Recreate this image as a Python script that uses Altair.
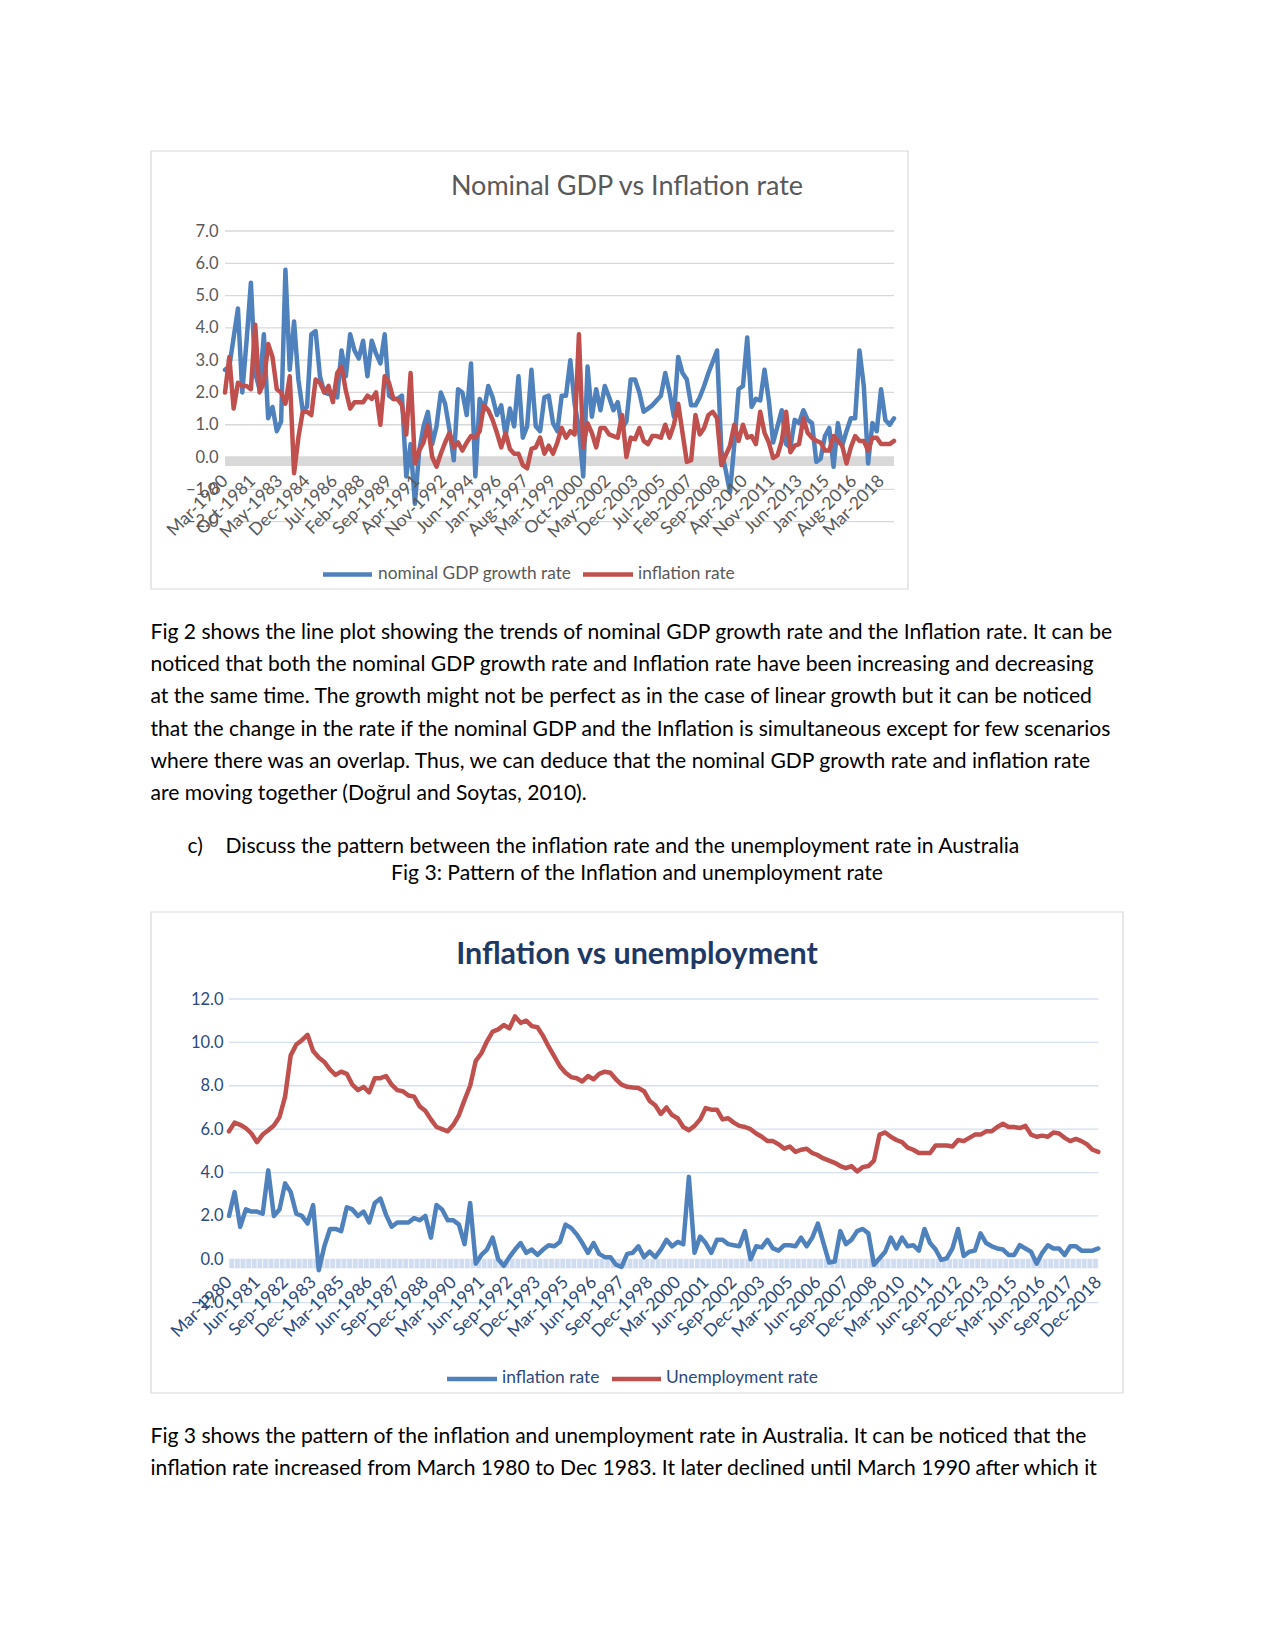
import altair as alt
import pandas as pd

# ---------------- data (quarterly, Mar-1980 .. Dec-2018) ----------------
inflation = [
    2.0, 3.1, 1.5, 2.3, 2.2, 2.2, 2.1, 4.1, 2.0, 2.3,
    3.5, 3.1, 2.1, 2.0, 1.65, 2.5, -0.5, 0.6, 1.4, 1.4,
    1.3, 2.4, 2.3, 2.0, 2.2, 1.7, 2.6, 2.8, 2.05, 1.5,
    1.7, 1.7, 1.7, 1.9, 1.8, 2.0, 1.0, 2.5, 2.3, 1.8,
    1.8, 1.6, 0.7, 2.6, -0.2, 0.2, 0.45, 1.0, 0.0, -0.3,
    0.1, 0.45, 0.75, 0.3, 0.45, 0.2, 0.45, 0.65, 0.6, 0.8,
    1.6, 1.45, 1.15, 0.75, 0.3, 0.75, 0.25, 0.1, 0.1, -0.25,
    -0.35, 0.25, 0.3, 0.6, 0.1, 0.35, 0.1, 0.45, 0.9, 0.6,
    0.8, 0.7, 3.8, 0.3, 1.05, 0.75, 0.3, 0.9, 0.9, 0.7,
    0.65, 0.6, 1.3, 0.0, 0.6, 0.55, 0.9, 0.5, 0.4, 0.65,
    0.65, 0.6, 1.0, 0.6, 1.0, 1.65, 0.75, -0.15, -0.1, 1.3,
    0.7, 0.9, 1.3, 1.4, 1.2, -0.25, 0.05, 0.35, 1.0, 0.5,
    1.0, 0.6, 0.65, 0.4, 1.4, 0.75, 0.45, -0.03, 0.05, 0.5,
    1.4, 0.15, 0.35, 0.4, 1.2, 0.75, 0.6, 0.5, 0.45, 0.2,
    0.2, 0.65, 0.5, 0.35, -0.2, 0.3, 0.65, 0.5, 0.5, 0.2,
    0.6, 0.6, 0.4, 0.4, 0.4, 0.5,
]

unemployment = [
    5.9, 6.3, 6.2, 6.05, 5.8, 5.4, 5.75, 5.95, 6.17, 6.55,
    7.5, 9.4, 9.9, 10.1, 10.35, 9.6, 9.3, 9.1, 8.75, 8.5,
    8.65, 8.55, 8.05, 7.8, 7.95, 7.7, 8.35, 8.35, 8.45, 8.05,
    7.8, 7.75, 7.55, 7.5, 7.05, 6.85, 6.45, 6.1, 6.0, 5.9,
    6.2, 6.65, 7.35, 8.0, 9.15, 9.5, 10.05, 10.5, 10.6, 10.8,
    10.65, 11.2, 10.9, 11.0, 10.75, 10.7, 10.3, 9.8, 9.35, 8.9,
    8.6, 8.4, 8.35, 8.2, 8.45, 8.3, 8.55, 8.65, 8.6, 8.3,
    8.05, 7.95, 7.92, 7.9, 7.75, 7.3, 7.1, 6.7, 7.0, 6.65,
    6.5, 6.1, 5.95, 6.15, 6.45, 6.97, 6.9, 6.9, 6.45, 6.5,
    6.3, 6.15, 6.1, 6.0, 5.8, 5.65, 5.45, 5.45, 5.3, 5.1,
    5.2, 4.95, 5.05, 5.1, 4.9, 4.8, 4.65, 4.55, 4.45, 4.3,
    4.2, 4.3, 4.05, 4.25, 4.3, 4.55, 5.75, 5.85, 5.65, 5.5,
    5.4, 5.15, 5.05, 4.9, 4.9, 4.9, 5.25, 5.25, 5.25, 5.2,
    5.5, 5.45, 5.6, 5.75, 5.75, 5.9, 5.9, 6.1, 6.25, 6.1,
    6.1, 6.05, 6.15, 5.75, 5.65, 5.7, 5.65, 5.85, 5.8, 5.6,
    5.45, 5.55, 5.45, 5.3, 5.05, 4.95,
]

gdp_growth = [
    2.7, 2.8, 3.7, 4.6, 2.0, 3.6, 5.4, 2.6, 2.1, 3.8,
    1.2, 1.55, 0.8, 1.1, 5.8, 2.7, 4.2, 2.4, 1.45, 1.55,
    3.8, 3.9, 2.5, 2.0, 1.95, 2.0, 1.85, 3.3, 2.5, 3.8,
    3.3, 3.05, 3.6, 2.5, 3.6, 3.2, 2.9, 3.8, 1.9, 1.8,
    1.8, 1.9, -0.6, 0.4, -1.45, 0.2, 0.95, 1.4, 0.4, 0.95,
    2.0, 1.65, 0.85, -0.1, 2.1, 2.0, 1.3, 2.9, -0.6, 1.8,
    1.45, 2.2, 1.85, 1.3, 1.6, 0.65, 1.5, 0.95, 2.5, 0.6,
    0.95, 2.7, 0.95, 0.8, 1.85, 1.9, 1.05, 0.8, 1.9, 1.9,
    3.0, 1.65, 0.9, -0.6, 2.8, 1.25, 2.1, 1.45, 2.2, 1.85,
    1.45, 1.7, 0.9, 1.1, 2.4, 2.4, 2.0, 1.4, 1.5, 1.6,
    1.75, 1.9, 2.6, 2.0, 1.25, 3.1, 2.6, 2.4, 1.6, 1.6,
    1.85, 2.2, 2.6, 2.95, 3.3, 0.2, -0.4, -1.1, 0.4, 2.1,
    2.2, 3.7, 1.55, 1.8, 1.75, 2.7, 1.75, 0.45, 0.95, 1.45,
    0.4, 0.3, 1.15, 1.05, 1.45, 1.15, 1.05, -0.15, -0.05, 0.65,
    0.9, -0.3, 1.05, 0.35, 0.8, 1.2, 1.2, 3.3, 2.2, -0.2,
    1.05, 0.8, 2.1, 1.15, 1.0, 1.2,
]

gdp_x_labels = [
    "Mar-1980", "Oct-1981", "May-1983", "Dec-1984", "Jul-1986", "Feb-1988",
    "Sep-1989", "Apr-1991", "Nov-1992", "Jun-1994", "Jan-1996", "Aug-1997",
    "Mar-1999", "Oct-2000", "May-2002", "Dec-2003", "Jul-2005", "Feb-2007",
    "Sep-2008", "Apr-2010", "Nov-2011", "Jun-2013", "Jan-2015", "Aug-2016",
    "Mar-2018",
]
unemp_x_labels = [
    "Mar-1980", "Jun-1981", "Sep-1982", "Dec-1983", "Mar-1985", "Jun-1986",
    "Sep-1987", "Dec-1988", "Mar-1990", "Jun-1991", "Sep-1992", "Dec-1993",
    "Mar-1995", "Jun-1996", "Sep-1997", "Dec-1998", "Mar-2000", "Jun-2001",
    "Sep-2002", "Dec-2003", "Mar-2005", "Jun-2006", "Sep-2007", "Dec-2008",
    "Mar-2010", "Jun-2011", "Sep-2012", "Dec-2013", "Mar-2015", "Jun-2016",
    "Sep-2017", "Dec-2018",
]
gdp_y_ticks = [-2, -1, 0, 1, 2, 3, 4, 5, 6, 7]
unemp_y_ticks = [-2, 0, 2, 4, 6, 8, 10, 12]

title_1 = "Nominal GDP vs Inflation rate"
title_2 = "Inflation vs unemployment"
legend_1 = ["nominal GDP growth rate", "inflation rate"]
legend_2 = ["inflation rate", "Unemployment rate"]

paragraph_1 = [
    "Fig 2 shows the line plot showing the trends of nominal GDP growth rate and the Inflation rate. It can be",
    "noticed that both the nominal GDP growth rate and Inflation rate have been increasing and decreasing",
    "at the same time. The growth might not be perfect as in the case of linear growth but it can be noticed",
    "that the change in the rate if the nominal GDP and the Inflation is simultaneous except for few scenarios",
    "where there was an overlap. Thus, we can deduce that the nominal GDP growth rate and inflation rate",
    "are moving together (Doğrul and Soytas, 2010).",
]
item_label = "c)"
item_text = "Discuss the pattern between the inflation rate and the unemployment rate in Australia"
caption_3 = "Fig 3: Pattern of the Inflation and unemployment rate"
paragraph_2 = [
    "Fig 3 shows the pattern of the inflation and unemployment rate in Australia. It can be noticed that the",
    "inflation rate increased from March 1980 to Dec 1983. It later declined until March 1990 after which it",
]

# ---------------- styles / layout ----------------
BLUE = "#4F81BD"
RED = "#C0504D"
GRAY_TXT = "#595959"
NAVY_TXT = "#2C4A7C"
NAVY_TITLE = "#1F3864"
FONT = "Lato"
W, H = 1259, 1635
O = 8  # page margin


def P(v):
    return v - O


n = len(inflation)
data = pd.DataFrame({
    "quarter": list(range(n)),
    "month": [3 * i for i in range(n)],
    "gdp": gdp_growth,
    "infl": inflation,
    "unemp": unemployment,
})

# ---- chart 1 geometry (page px) ----
c1_left, c1_right = 225, 894
c1_top, c1_bottom = 231, 521.6
c1_ymin, c1_ymax = -2, 7
c1_months = 465
x1 = alt.Scale(domain=[0, c1_months], range=[P(c1_left), P(c1_right)], nice=False, zero=False)
y1 = alt.Scale(domain=[c1_ymin, c1_ymax], range=[P(c1_bottom), P(c1_top)], nice=False, zero=False)
c1_zero = P(c1_bottom) - (0 - c1_ymin) * (c1_bottom - c1_top) / (c1_ymax - c1_ymin)
step1 = 19
expr1 = "[" + ",".join("'%s'" % s for s in gdp_x_labels) + "][round(datum.value/%d)]" % step1

ax1x = alt.Axis(
    orient="bottom", offset=c1_zero - H, values=[i * step1 for i in range(len(gdp_x_labels))],
    labelExpr=expr1, labelAngle=-45, labelAlign="right", labelBaseline="middle",
    labelPadding=21, labelFont=FONT, labelFontSize=17.5, labelColor=GRAY_TXT,
    labelOverlap=False, labelFlush=False, labelBound=False, ticks=False, tickSize=0,
    domain=False, grid=False, title=None, zindex=2,
)
ax1y = alt.Axis(
    orient="left", offset=-P(c1_left), values=gdp_y_ticks, format=".1f",
    labelPadding=7, labelFont=FONT, labelFontSize=16.5, labelColor=GRAY_TXT,
    labelOverlap=False, labelFlush=False, labelBound=False, ticks=False, tickSize=0,
    domain=False, grid=False, title=None, zindex=2,
)

grid1 = alt.Chart(pd.DataFrame({"v": gdp_y_ticks})).mark_rule(color="#D9D9D9", strokeWidth=1.3).encode(
    y=alt.Y("v:Q", scale=y1, axis=ax1y), x=alt.value(P(c1_left)), x2=alt.value(P(c1_right)))
band1 = alt.Chart(pd.DataFrame({"a": [0], "b": [c1_months], "lo": [-0.28], "hi": [0.0]})).mark_rect(
    color="#D9D9D9").encode(
    x=alt.X("a:Q", scale=x1, axis=ax1x), x2="b:Q",
    y=alt.Y("lo:Q", scale=y1, axis=ax1y), y2="hi:Q")
line_kw = dict(strokeWidth=4.5, strokeJoin="round", strokeCap="round")
gdp_line = alt.Chart(data).mark_line(color=BLUE, **line_kw).encode(
    x=alt.X("month:Q", scale=x1, axis=ax1x), y=alt.Y("gdp:Q", scale=y1, axis=ax1y))
inf_line1 = alt.Chart(data).mark_line(color=RED, **line_kw).encode(
    x=alt.X("month:Q", scale=x1, axis=ax1x), y=alt.Y("infl:Q", scale=y1, axis=ax1y))
chart1 = alt.layer(grid1, band1, gdp_line, inf_line1)

# ---- chart 2 geometry (page px) ----
c2_left, c2_right = 229, 1098.3
c2_top, c2_bottom = 999, 1302.7
c2_ymin, c2_ymax = -2, 12
x2s = alt.Scale(domain=[0, n - 1], range=[P(c2_left), P(c2_right)], nice=False, zero=False)
y2s = alt.Scale(domain=[c2_ymin, c2_ymax], range=[P(c2_bottom), P(c2_top)], nice=False, zero=False)
c2_zero = P(c2_bottom) - (0 - c2_ymin) * (c2_bottom - c2_top) / (c2_ymax - c2_ymin)
step2 = 5
expr2 = "[" + ",".join("'%s'" % s for s in unemp_x_labels) + "][round(datum.value/%d)]" % step2

ax2x = alt.Axis(
    orient="bottom", offset=c2_zero - H, values=[i * step2 for i in range(len(unemp_x_labels))],
    labelExpr=expr2, labelAngle=-45, labelAlign="right", labelBaseline="middle",
    labelPadding=20, labelFont=FONT, labelFontSize=17.5, labelColor=NAVY_TXT,
    labelOverlap=False, labelFlush=False, labelBound=False, ticks=False, tickSize=0,
    domain=False, grid=False, title=None, zindex=2,
)
ax2y = alt.Axis(
    orient="left", offset=-P(c2_left), values=unemp_y_ticks, format=".1f",
    labelPadding=6, labelFont=FONT, labelFontSize=16.5, labelColor=NAVY_TXT,
    labelOverlap=False, labelFlush=False, labelBound=False, ticks=False, tickSize=0,
    domain=False, grid=False, title=None, zindex=2,
)

grid2 = alt.Chart(pd.DataFrame({"v": unemp_y_ticks})).mark_rule(color="#D6DFF0", strokeWidth=1.3).encode(
    y=alt.Y("v:Q", scale=y2s, axis=ax2y), x=alt.value(P(c2_left)), x2=alt.value(P(c2_right)))
band2 = alt.Chart(pd.DataFrame({"a": [0], "b": [n - 1], "lo": [-0.41], "hi": [0.0]})).mark_rect(
    color="#D0DCF0").encode(
    x=alt.X("a:Q", scale=x2s, axis=ax2x), x2="b:Q",
    y=alt.Y("lo:Q", scale=y2s, axis=ax2y), y2="hi:Q")
stripes2 = alt.Chart(pd.DataFrame({"q": list(range(n)), "lo": [-0.41] * n, "hi": [0.0] * n})).mark_rule(
    color="white", strokeWidth=1, opacity=0.75).encode(
    x=alt.X("q:Q", scale=x2s, axis=ax2x),
    y=alt.Y("lo:Q", scale=y2s, axis=ax2y), y2="hi:Q")
inf_line2 = alt.Chart(data).mark_line(color=BLUE, **line_kw).encode(
    x=alt.X("quarter:Q", scale=x2s, axis=ax2x), y=alt.Y("infl:Q", scale=y2s, axis=ax2y))
unemp_line = alt.Chart(data).mark_line(color=RED, **line_kw).encode(
    x=alt.X("quarter:Q", scale=x2s, axis=ax2x), y=alt.Y("unemp:Q", scale=y2s, axis=ax2y))
chart2 = alt.layer(grid2, band2, stripes2, inf_line2, unemp_line)


# ---------------- frames, titles, legends, text ----------------
def boxes(rows):
    df = pd.DataFrame(rows, columns=["x", "x2", "y", "y2"])
    return alt.Chart(df).mark_rect(fillOpacity=0, stroke="#D9D9D9", strokeWidth=1.2).encode(
        x=alt.X("x:Q", scale=None, axis=None), x2="x2:Q",
        y=alt.Y("y:Q", scale=None, axis=None), y2="y2:Q")


def swatch(x_a, x_b, y, color):
    return alt.Chart(pd.DataFrame({"k": [0]})).mark_rule(color=color, strokeWidth=4.5).encode(
        x=alt.value(P(x_a)), x2=alt.value(P(x_b)), y=alt.value(P(y)), y2=alt.value(P(y)))


def texts(rows, **kw):
    df = pd.DataFrame(rows, columns=["x", "y", "t"])
    df["x"] = df["x"] - O
    df["y"] = df["y"] - O
    return alt.Chart(df).mark_text(font=FONT, baseline="middle", **kw).encode(
        x=alt.X("x:Q", scale=None, axis=None), y=alt.Y("y:Q", scale=None, axis=None), text="t:N")


frame = boxes([[P(151), P(908), P(151), P(589)], [P(151), P(1123), P(912), P(1393)]])

t_title1 = texts([[627, 187, title_1]], align="center", fontSize=27, color=GRAY_TXT)
t_title2 = texts([[637, 955, title_2]], align="center", fontSize=30.5, fontWeight="bold", color=NAVY_TITLE)
t_leg1 = texts([[378, 573.5, legend_1[0]], [638, 573.5, legend_1[1]]], align="left", fontSize=17.3, color=GRAY_TXT)
t_leg2 = texts([[502, 1378, legend_2[0]], [666, 1378, legend_2[1]]], align="left", fontSize=17.4, color=NAVY_TXT)
sw = [
    swatch(323, 372, 574.5, BLUE), swatch(583, 633, 574.5, RED),
    swatch(447, 497, 1379, BLUE), swatch(612, 661, 1379, RED),
]

p1_y0, line_gap = 633, 32.2
body_rows = [[150.5, p1_y0 + k * line_gap, s] for k, s in enumerate(paragraph_1)]
body_rows += [[187.5, 846.8, item_label], [225.5, 846.8, item_text]]
body_rows += [[150.5, 1436.5 + k * line_gap, s] for k, s in enumerate(paragraph_2)]
t_body = texts(body_rows, align="left", fontSize=21.1, color="#000000")
t_caption = texts([[637, 874, caption_3]], align="center", fontSize=21.1, color="#000000")

chart = alt.layer(
    frame, chart1, chart2, t_title1, t_title2, t_leg1, t_leg2, *sw, t_body, t_caption
).resolve_scale(
    x="independent", y="independent"
).properties(
    width=W, height=H, autosize=alt.AutoSizeParams(type="none"), padding=0
).configure_view(strokeWidth=0)

chart.save("out.html", embed_options={"renderer": "svg", "actions": False})
